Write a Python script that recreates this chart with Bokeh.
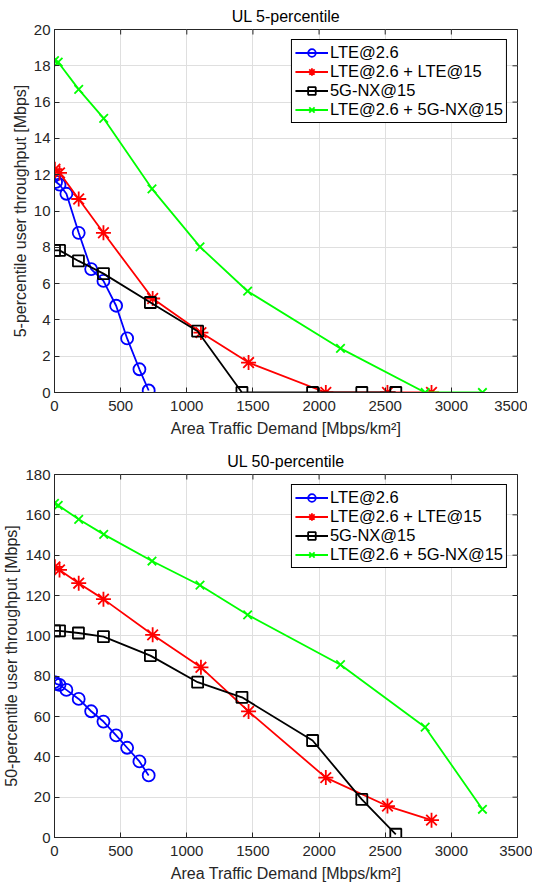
import math
from bokeh.plotting import figure
from bokeh.models import Range1d, Legend, LegendItem, FixedTicker
from bokeh.layouts import column
from bokeh.embed import file_html
from bokeh.resources import INLINE

FONT = "Liberation Sans"
AX = "#262626"

# ---- data ----
x_ticks = [0, 500, 1000, 1500, 2000, 2500, 3000, 3500]

labels = ["LTE@2.6", "LTE@2.6 + LTE@15", "5G-NX@15", "LTE@2.6 + 5G-NX@15"]

x_lte = [0, 12, 38, 90, 183, 277, 370, 466, 549, 642, 712]
x_lte_lte = [3, 38, 183, 370, 742, 1107, 1467, 2051, 2517, 2850]
x_nx = [0, 38, 181, 370, 725, 1082, 1417, 1951, 2323, 2580]
x_lte_nx = [0, 28, 183, 372, 737, 1100, 1460, 2162, 2802, 3235]

y5_lte = [11.95, 11.6, 11.45, 10.95, 8.8, 6.8, 6.15, 4.78, 2.98, 1.28, 0.11]
y5_lte_lte = [12.3, 12.1, 10.66, 8.8, 5.18, 3.3, 1.65, 0, 0, 0]
y5_nx = [7.83, 7.83, 7.25, 6.55, 4.96, 3.38, 0, 0, 0, 0]
y5_lte_nx = [18.28, 18.2, 16.7, 15.1, 11.22, 8.02, 5.58, 2.43, 0, 0]

y50_lte = [77, 76.2, 75.7, 73.2, 68.7, 62.6, 57.5, 50.6, 44.5, 37.7, 30.8]
y50_lte_lte = [134.2, 132.7, 126.1, 118.2, 100.5, 84.4, 62.5, 29.7, 15.6, 8.6]
y50_nx = [102.5, 102.5, 101.4, 99.6, 90.2, 77, 69.5, 48.1, 18.9, 1.6]
y50_lte_nx = [165.7, 164.7, 157.8, 150.3, 137.1, 125.1, 110.4, 85.7, 54.7, 14]

colors = ["#0000ff", "#ff0000", "#000000", "#00ff00"]
markers = ["circle", "asterisk", "square", "x"]
msizes = [12, 15, 11, 12]


def style_axis(ax):
    ax.axis_line_color = AX
    ax.major_tick_line_color = AX
    ax.major_tick_in = 5
    ax.major_tick_out = 0
    ax.minor_tick_line_color = None
    ax.major_label_text_font = FONT
    ax.major_label_text_color = AX
    ax.major_label_text_font_size = "15px"
    ax.axis_label_text_font = FONT
    ax.axis_label_text_font_size = "16px"
    ax.axis_label_text_font_style = "normal"
    ax.axis_label_text_color = AX


def make_fig(title, ylabel, ytop, ystep, xs, ys, top_border, bottom_border):
    p = figure(frame_width=463, frame_height=363,
               min_border_left=49, min_border_right=15,
               min_border_top=top_border, min_border_bottom=bottom_border,
               x_range=Range1d(0, 3500), y_range=Range1d(0, ytop),
               output_backend="svg", toolbar_location=None, title=title)
    p.title.text_font = FONT
    p.title.text_font_size = "16px"
    p.title.text_font_style = "normal"
    p.title.text_color = "black"
    p.title.align = "center"
    p.outline_line_color = AX
    p.outline_line_width = 1
    yt = list(range(0, ytop + 1, ystep))
    p.xaxis.ticker = FixedTicker(ticks=x_ticks)
    p.yaxis.ticker = FixedTicker(ticks=yt)
    p.xaxis.axis_label = "Area Traffic Demand [Mbps/km\u00b2]"
    p.yaxis.axis_label = ylabel
    for ax in p.xaxis + p.yaxis:
        style_axis(ax)
    p.xaxis.major_label_standoff = 8
    p.xaxis.axis_label_standoff = 6
    p.yaxis.major_label_standoff = 4
    p.yaxis.axis_label_standoff = 2
    p.grid.grid_line_color = "#dfdfdf"
    p.grid.grid_line_width = 1

    # inward ticks on the top and right box edges (half of each dash is clipped)
    p.scatter(x_ticks, [ytop] * len(x_ticks), marker="dash", angle=math.pi / 2,
              size=10, line_color=AX, line_width=1)
    p.scatter([3500] * len(yt), yt, marker="dash", size=10,
              line_color=AX, line_width=1)

    items = []
    for lab, x, y, c, m, s in zip(labels, xs, ys, colors, markers, msizes):
        r1 = p.line(x, y, line_color=c, line_width=1.8)
        r2 = p.scatter(x, y, marker=m, size=s, line_color=c, fill_color=None,
                       line_width=1.8)
        items.append(LegendItem(label=lab, renderers=[r1, r2]))
    leg = Legend(items=items, location="top_right")
    leg.border_line_color = "black"
    leg.border_line_width = 1
    leg.border_line_alpha = 1
    leg.background_fill_color = "white"
    leg.background_fill_alpha = 1
    leg.label_text_font = FONT
    leg.label_text_font_size = "16.5px"
    leg.label_text_color = "black"
    leg.glyph_width = 33
    leg.glyph_height = 19
    leg.label_height = 19
    leg.spacing = 0
    leg.padding = 3
    leg.margin = 10
    leg.label_standoff = 2
    p.add_layout(leg)
    return p


p1 = make_fig("UL 5-percentile", "5-percentile user throughput [Mbps]", 20, 2,
              [x_lte, x_lte_lte, x_nx, x_lte_nx],
              [y5_lte, y5_lte_lte, y5_nx, y5_lte_nx], 22, 53)
p2 = make_fig("UL 50-percentile", "50-percentile user throughput [Mbps]", 180, 20,
              [x_lte, x_lte_lte, x_nx, x_lte_nx],
              [y50_lte, y50_lte_lte, y50_nx, y50_lte_nx], 29, 46)

layout = column(p1, p2, spacing=0)
open("out.html", "w").write(file_html(layout, INLINE))
